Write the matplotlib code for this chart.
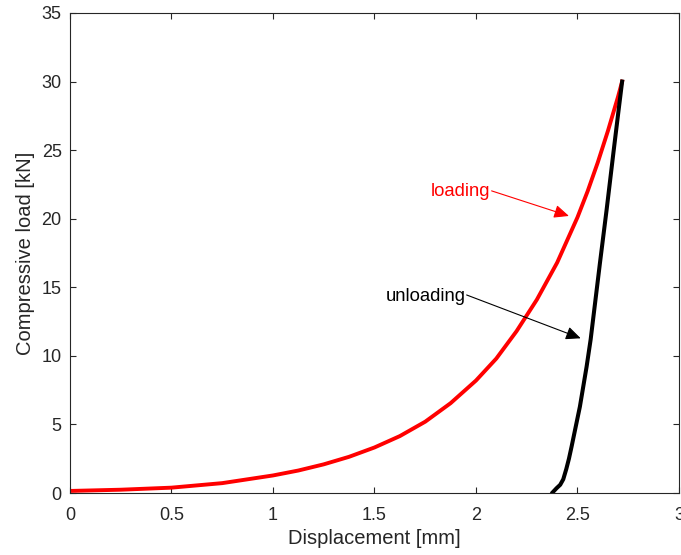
import matplotlib
matplotlib.use("Agg")
import matplotlib.pyplot as plt

plt.rcParams['font.family'] = ['Liberation Sans', 'DejaVu Sans']

# Loading curve (red)
load_x = [0.0, 0.25, 0.5, 0.75, 1.0, 1.125, 1.25, 1.375, 1.5, 1.625, 1.75, 1.875, 2.0, 2.1, 2.2, 2.3, 2.4, 2.5, 2.55, 2.6, 2.65, 2.7, 2.72]
load_y = [0.15, 0.24, 0.39, 0.72, 1.28, 1.64, 2.09, 2.64, 3.32, 4.15, 5.2, 6.55, 8.2, 9.8, 11.8, 14.1, 16.8, 20.1, 22.0, 24.1, 26.4, 28.9, 30.0]

# Unloading curve (black)
unload_x = [2.378, 2.397, 2.415, 2.43, 2.445, 2.458, 2.471, 2.512, 2.545, 2.565, 2.611, 2.644, 2.677, 2.70, 2.72]
unload_y = [0.05, 0.35, 0.6, 1.0, 1.75, 2.5, 3.38, 6.3, 9.21, 11.2, 16.8, 20.7, 24.8, 27.6, 30.0]

fig = plt.figure(figsize=(6.81, 5.55), dpi=100)
ax = fig.add_axes([0.1028, 0.1117, 0.8942, 0.8649])

ax.plot(load_x, load_y, color='#ff0000', lw=2.8, solid_joinstyle='round')
ax.plot(unload_x, unload_y, color='black', lw=2.9, solid_joinstyle='round')

ax.set_xlim(0, 3)
ax.set_ylim(0, 35)
ax.set_xticks([0, 0.5, 1, 1.5, 2, 2.5, 3])
ax.set_xticklabels(['0', '0.5', '1', '1.5', '2', '2.5', '3'])
ax.set_yticks([0, 5, 10, 15, 20, 25, 30, 35])

axcol = '#262626'
for s in ax.spines.values():
    s.set_color(axcol)
    s.set_linewidth(0.8)
ax.tick_params(direction='in', top=True, right=True, length=4.5, width=0.8,
               color=axcol, labelcolor=axcol, labelsize=13)
ax.tick_params(axis='x', pad=10)
ax.tick_params(axis='y', pad=6)
ax.set_xlabel('Displacement [mm]', fontsize=14.5, color=axcol, labelpad=4)
ax.set_ylabel('Compressive load [kN]', fontsize=14.5, color=axcol, labelpad=5)

# Annotations
ax.text(1.923, 21.98, 'loading', color='#ff0000', fontsize=13.3, ha='center', va='center')
ax.annotate('', xy=(2.458, 20.2), xytext=(2.077, 22.03),
            arrowprops=dict(arrowstyle='-|>,head_length=0.9,head_width=0.4',
                            color='#ff0000', lw=0.8, shrinkA=0, shrinkB=0))
ax.text(1.754, 14.32, 'unloading', color='black', fontsize=13.3, ha='center', va='center')
ax.annotate('', xy=(2.516, 11.28), xytext=(1.954, 14.44),
            arrowprops=dict(arrowstyle='-|>,head_length=0.9,head_width=0.4',
                            color='black', lw=0.8, shrinkA=0, shrinkB=0))

fig.savefig('out.png', dpi=100)
